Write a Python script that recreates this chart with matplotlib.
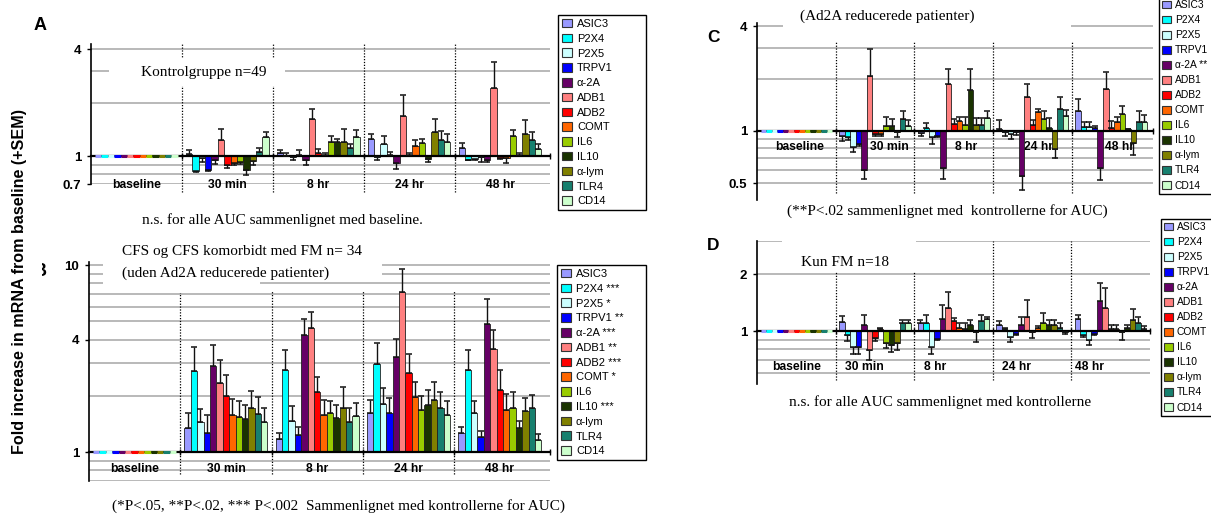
import matplotlib
matplotlib.use("Agg")
import matplotlib.pyplot as plt
import matplotlib.patches as mpatches
from matplotlib import font_manager as fm
from matplotlib.transforms import blended_transform_factory
from matplotlib.ticker import NullLocator
import numpy as np

# ---- data -------------------------------------------------------------
genes = ['ASIC3', 'P2X4', 'P2X5', 'TRPV1', 'α-2A', 'ADB1', 'ADB2', 'COMT',
         'IL6', 'IL10', 'α-lym', 'TLR4', 'CD14']
b_legend = ['ASIC3', 'P2X4 ***', 'P2X5 *', 'TRPV1 **', 'α-2A ***', 'ADB1 **',
            'ADB2 ***', 'COMT *', 'IL6', 'IL10 ***', 'α-lym', 'TLR4', 'CD14']
c_legend = ['ASIC3', 'P2X4', 'P2X5', 'TRPV1', 'α-2A **', 'ADB1', 'ADB2',
            'COMT', 'IL6', 'IL10', 'α-lym', 'TLR4', 'CD14']
colors = ['#9999ff', '#00ffff', '#ccffff', '#0000ff', '#660066', '#ff8080',
          '#ff0000', '#ff6600', '#99cc00', '#1a3300', '#808000', '#17806f',
          '#ccffcc']
groups = ['baseline', '30 min', '8 hr', '24 hr', '48 hr']
baseline = [1.0, 1.0, 1.0, 1.0, 1.0, 1.0, 1.0, 1.0, 1.0, 1.0, 1.0, 1.0, 1.0]

# A: Kontrolgruppe (rows: 30 min, 8 hr, 24 hr, 48 hr)
a_mean = [[1.03, 0.83, 0.98, 0.84, 0.95, 1.24, 0.90, 0.92, 0.93, 0.84, 0.94, 1.06, 1.28],
          [1.04, 1.01, 0.99, 1.02, 0.95, 1.62, 1.05, 1.02, 1.20, 1.20, 1.20, 1.12, 1.28],
          [1.25, 0.99, 1.17, 1.02, 0.92, 1.68, 1.02, 1.14, 1.19, 0.97, 1.37, 1.24, 1.20],
          [1.12, 0.96, 0.97, 0.99, 0.96, 2.41, 0.98, 0.98, 1.30, 1.02, 1.33, 1.24, 1.10]]
a_sem = [[0.05, 0.01, 0.05, 0.01, 0.04, 0.19, 0.04, 0.02, 0.02, 0.05, 0.05, 0.06, 0.09],
         [0.05, 0.03, 0.03, 0.06, 0.06, 0.23, 0.05, 0.03, 0.10, 0.05, 0.22, 0.06, 0.12],
         [0.08, 0.03, 0.13, 0.04, 0.07, 0.52, 0.02, 0.09, 0.07, 0.04, 0.26, 0.15, 0.13],
         [0.07, 0.01, 0.02, 0.06, 0.03, 1.00, 0.01, 0.06, 0.10, 0.03, 0.27, 0.14, 0.08]]

# B: CFS og CFS komorbidt med FM
b_mean = [[1.34, 2.70, 1.45, 1.27, 2.88, 2.34, 2.00, 1.57, 1.54, 1.50, 1.73, 1.60, 1.45],
          [1.18, 2.76, 1.47, 1.23, 4.24, 4.60, 2.10, 1.57, 1.62, 1.52, 1.73, 1.45, 1.55],
          [1.62, 2.96, 1.81, 1.62, 3.23, 7.17, 2.65, 1.97, 1.67, 1.78, 1.89, 1.73, 1.57],
          [1.27, 2.74, 1.62, 1.20, 4.87, 3.56, 2.16, 1.67, 1.73, 1.34, 1.65, 1.73, 1.16]]
b_sem = [[0.28, 0.95, 0.24, 0.30, 0.85, 0.78, 0.57, 0.36, 0.33, 0.28, 0.39, 0.37, 0.28],
         [0.09, 0.77, 0.29, 0.14, 0.94, 1.02, 0.42, 0.32, 0.25, 0.26, 0.50, 0.28, 0.29],
         [0.27, 0.88, 0.39, 0.33, 0.80, 2.38, 0.71, 0.39, 0.32, 0.38, 0.48, 0.36, 0.30],
         [0.10, 0.79, 0.25, 0.09, 1.73, 0.92, 0.58, 0.38, 0.36, 0.13, 0.30, 0.29, 0.09]]

# C: Ad2A reducerede patienter
c_mean = [[0.93, 0.92, 0.81, 0.84, 0.60, 2.07, 0.96, 0.96, 1.07, 1.07, 0.99, 1.17, 1.07],
          [0.97, 1.04, 0.92, 0.93, 0.61, 1.87, 1.10, 1.14, 1.08, 1.72, 1.08, 1.08, 1.19],
          [1.03, 0.98, 0.96, 0.99, 0.55, 1.56, 1.08, 1.28, 1.17, 1.04, 0.79, 1.34, 1.22],
          [1.31, 1.05, 1.06, 1.04, 0.61, 1.75, 1.04, 1.12, 1.25, 1.02, 0.85, 1.12, 1.12]]
c_sem = [[0.05, 0.03, 0.05, 0.02, 0.07, 0.89, 0.02, 0.02, 0.13, 0.10, 0.07, 0.14, 0.09],
         [0.04, 0.07, 0.08, 0.01, 0.08, 0.39, 0.07, 0.06, 0.12, 0.54, 0.11, 0.11, 0.11],
         [0.12, 0.04, 0.06, 0.04, 0.09, 0.31, 0.07, 0.06, 0.13, 0.15, 0.09, 0.22, 0.10],
         [0.22, 0.07, 0.06, 0.03, 0.09, 0.44, 0.10, 0.08, 0.14, 0.01, 0.12, 0.18, 0.12]]

# D: Kun FM
d_mean = [[1.12, 0.95, 0.82, 0.82, 1.08, 0.79, 0.92, 1.02, 0.86, 0.84, 0.86, 1.10, 1.10],
          [1.10, 1.10, 0.82, 0.91, 1.16, 1.33, 1.13, 1.04, 1.03, 1.07, 0.99, 1.13, 1.16],
          [1.07, 1.02, 0.93, 0.97, 1.07, 1.19, 0.99, 1.04, 1.10, 1.07, 1.07, 1.04, 0.99],
          [1.16, 0.95, 0.90, 0.97, 1.44, 1.32, 1.03, 1.03, 0.99, 1.04, 1.14, 1.10, 1.03]]
d_sem = [[0.08, 0.06, 0.06, 0.06, 0.14, 0.09, 0.03, 0.02, 0.05, 0.07, 0.07, 0.05, 0.05],
         [0.05, 0.12, 0.06, 0.01, 0.22, 0.28, 0.04, 0.06, 0.07, 0.08, 0.11, 0.09, 0.02],
         [0.06, 0.02, 0.06, 0.02, 0.11, 0.27, 0.07, 0.02, 0.15, 0.08, 0.08, 0.06, 0.02],
         [0.06, 0.02, 0.06, 0.02, 0.35, 0.37, 0.05, 0.05, 0.09, 0.04, 0.17, 0.08, 0.03]]

# ---- fonts ------------------------------------------------------------
installed = {f.name for f in fm.fontManager.ttflist}
if 'Liberation Sans Narrow' in installed:
    NARROW, NS = 'Liberation Sans Narrow', 1.0
else:
    NARROW, NS = 'Liberation Sans', 0.83
SANS = ['Liberation Sans', 'DejaVu Sans']
NAR = [NARROW, 'DejaVu Sans']
SERIF = ['Liberation Serif', 'DejaVu Serif']

W, H = 1211, 514
fig = plt.figure(figsize=(W / 100, H / 100), dpi=100)
fig.patch.set_facecolor('white')

BW = 0.07
GRID = '#b9b9b9'


def px_axes(x0, y0, x1, y1):
    return fig.add_axes([x0 / W, 1 - y1 / H, (x1 - x0) / W, (y1 - y0) / H])


def ftext(x, y, s, **kw):
    fig.text(x / W, 1 - y / H, s, **kw)


def panel(ax, means, sems, ylim, xr, grid, ticks, ticklabels,
          lab_y, lab_dx, lab_ha, vl_ymin, vl_ymax):
    ax.set_yscale('log')
    ax.set_ylim(*ylim)
    ax.set_xlim(-0.5, xr)
    for g in grid:
        ax.axhline(g, color=GRID, lw=1.4, zorder=0.5)
    offs = (np.arange(len(genes)) - 6) * BW
    ax.hlines(baseline, offs - BW / 2, offs + BW / 2, colors=colors, lw=2.2, zorder=4)
    for k, (m, e) in enumerate(zip(means, sems), start=1):
        m = np.array(m)
        e = np.array(e)
        x = k + offs
        ax.bar(x, m - 1, bottom=1, width=BW, color=colors, edgecolor='#222222',
               linewidth=0.6, zorder=3)
        lo = np.where(m < 1, e, 0)
        hi = np.where(m >= 1, e, 0)
        ax.errorbar(x, m, yerr=[lo, hi], fmt='none', ecolor='#111111',
                    elinewidth=1.0, capsize=2.4, capthick=1.1, zorder=3.5)
    for b in np.arange(0.5, 4, 1):
        ax.axvline(b, vl_ymin[int(b)], vl_ymax[int(b)], color='black',
                   ls=(0, (1, 1.3)), lw=0.9, zorder=1, clip_on=False)
    tr = blended_transform_factory(ax.transData, ax.transAxes)
    for k, g in enumerate(groups):
        ax.text(k + lab_dx[k], lab_y, g, transform=tr, ha=lab_ha[k], va='center',
                fontweight='bold', family=NAR, fontsize=10.5 * NS, zorder=2.5)
    for s in ['top', 'right']:
        ax.spines[s].set_visible(False)
    ax.spines['bottom'].set_position(('data', 1))
    ax.spines['bottom'].set_linewidth(1.6)
    ax.spines['bottom'].set_zorder(3.2)
    ax.spines['left'].set_linewidth(1.2)
    ax.set_xticks(list(np.arange(0.5, 4, 1)) + [xr])
    ax.tick_params(axis='x', direction='inout', length=5, width=1, labelbottom=False)
    ax.set_yticks(ticks)
    ax.set_yticklabels(ticklabels)
    ax.yaxis.set_minor_locator(NullLocator())
    ax.tick_params(axis='y', length=3, width=1, pad=4)
    for t in ax.get_yticklabels():
        t.set_family(NAR)
        t.set_fontweight('bold')
        t.set_fontsize(11.5 * NS)
    ax.patch.set_alpha(0)


def white_box(ax, x0, y0, x1, y1):
    ax.add_patch(mpatches.Rectangle((x0, y0), x1 - x0, y1 - y0, transform=ax.transAxes,
                                    facecolor='white', edgecolor='none', zorder=1.5,
                                    clip_on=False))


def legend(labels, x0, y0, w, size, fam, spacing, textpad=0.45, bpad=0.35):
    handles = [mpatches.Patch(facecolor=c, edgecolor='#333333', lw=0.8) for c in colors]
    lg = fig.legend(handles, labels, loc='upper left',
                    bbox_to_anchor=(x0 / W, 1 - y0 / H, w / W, 0), mode='expand',
                    borderaxespad=0, borderpad=bpad, handlelength=0.9,
                    handleheight=0.8, handletextpad=textpad, labelspacing=spacing,
                    prop={'family': fam, 'size': size}, fancybox=False,
                    framealpha=1, edgecolor='black')
    lg.get_frame().set_linewidth(1.0)


# ---- panel A ----------------------------------------------------------
axA = px_axes(91, 44, 550, 184)
panel(axA, a_mean, a_sem, (0.70, 4.28), 4.55, [0.7, 0.8, 0.9, 1, 2, 3, 4],
      [0.7, 1, 4], ['0.7', '1', '4'], -0.01, [0, 0, 0, 0, 0], ['center'] * 5,
      [-0.06] * 4, [1.0] * 4)
white_box(axA, 0.039, 0.70, 0.423, 0.90)
axA.text(0.246, 0.80, 'Kontrolgruppe n=49', transform=axA.transAxes, ha='center',
         va='center', family=SERIF, fontsize=11, zorder=5)

# ---- panel B ----------------------------------------------------------
axB = px_axes(89, 262, 550, 481)
panel(axB, b_mean, b_sem, (0.70, 10.4), 4.55,
      [0.7, 0.8, 0.9, 1, 2, 3, 4, 5, 6, 7, 8, 9, 10],
      [1, 4, 10], ['1', '4', '10'], 0.055, [0, 0, 0, 0, 0], ['center'] * 5,
      [0.03] * 4, [0.87] * 4)
white_box(axB, 0.030, 0.93, 0.635, 1.05)
white_box(axB, 0.030, 0.86, 0.37, 0.93)

# ---- panel C ----------------------------------------------------------
axC = px_axes(757, 23, 1153, 200)
panel(axC, c_mean, c_sem, (0.401, 4.17), 4.53,
      [0.5, 0.6, 0.7, 0.8, 0.9, 1, 2, 3, 4],
      [0.5, 1, 4], ['0.5', '1', '4'], 0.30, [0.04, 0.18, 0.15, 0.08, 0.11],
      ['center'] * 5, [0.04] * 4, [0.9] * 4)
white_box(axC, 0.066, 0.94, 0.793, 1.10)

# ---- panel D ----------------------------------------------------------
axD = px_axes(757, 241, 1150, 384)
panel(axD, d_mean, d_sem, (0.524, 3.0), 4.5,
      [0.6, 0.7, 0.8, 0.9, 1, 2, 3],
      [1, 2], ['1', '2'], 0.12, [0.0, -0.38, -0.38, -0.38, -0.45],
      ['center', 'left', 'left', 'left', 'left'], [0.03] * 4, [0.79, 0.79, 1.0, 1.0])
white_box(axD, 0.064, 0.80, 0.405, 1.05)
axD.text(0.225, 0.85, 'Kun FM n=18', transform=axD.transAxes, ha='center',
         va='center', family=SERIF, fontsize=11, zorder=5)

# ---- legends ----------------------------------------------------------
legend(genes, 558, 15, 88, 8, SANS, 0.42)
legend(b_legend, 557, 265, 89, 8, SANS, 0.42)
rsize = 9.2 if NS == 1 else 7.4
legend(c_legend, 1159, -3, 80, rsize, NAR, 0.49, textpad=0.35, bpad=0.3)
legend(genes, 1161, 219, 80, rsize, NAR, 0.49, textpad=0.35, bpad=0.3)

# ---- figure texts -----------------------------------------------------
ftext(40, 25, 'A', ha='center', va='center', fontweight='bold', family=SANS, fontsize=13)
ftext(40, 272, 'B', ha='center', va='center', fontweight='bold', family=SANS, fontsize=13)
fig.patches.append(mpatches.Rectangle((28 / W, 1 - 282 / H), 14 / W, 20 / H,
                                      transform=fig.transFigure, facecolor='white',
                                      edgecolor='none', zorder=10))
ftext(713, 37, 'C', ha='center', va='center', fontweight='bold', family=NAR, fontsize=15 * NS)
ftext(713, 245, 'D', ha='center', va='center', fontweight='bold', family=NAR, fontsize=15 * NS)
ftext(20, 282, 'Fold increase in mRNA from baseline (+SEM)', rotation=90, ha='center',
      va='center', fontweight='bold', family=NAR, fontsize=14 * NS)

ftext(282, 220, 'n.s. for alle AUC sammenlignet med baseline.', ha='center', va='center',
      family=SERIF, fontsize=11)
ftext(122, 251, 'CFS og CFS komorbidt med FM n= 34', ha='left', va='center',
      family=SERIF, fontsize=11)
ftext(122, 273, '(uden Ad2A reducerede patienter)', ha='left', va='center',
      family=SERIF, fontsize=11)
ftext(338, 506, '(*P<.05, **P<.02, *** P<.002  Sammenlignet med kontrollerne for AUC)',
      ha='center', va='center', family=SERIF, fontsize=11)
ftext(800, 16, '(Ad2A reducerede patienter)', ha='left', va='center',
      family=SERIF, fontsize=11)
ftext(787, 211, '(**P<.02 sammenlignet med  kontrollerne for AUC)', ha='left',
      va='center', family=SERIF, fontsize=11)
ftext(940, 402, 'n.s. for alle AUC sammenlignet med kontrollerne', ha='center',
      va='center', family=SERIF, fontsize=11)

fig.savefig('out.png', dpi=100, facecolor='white')
